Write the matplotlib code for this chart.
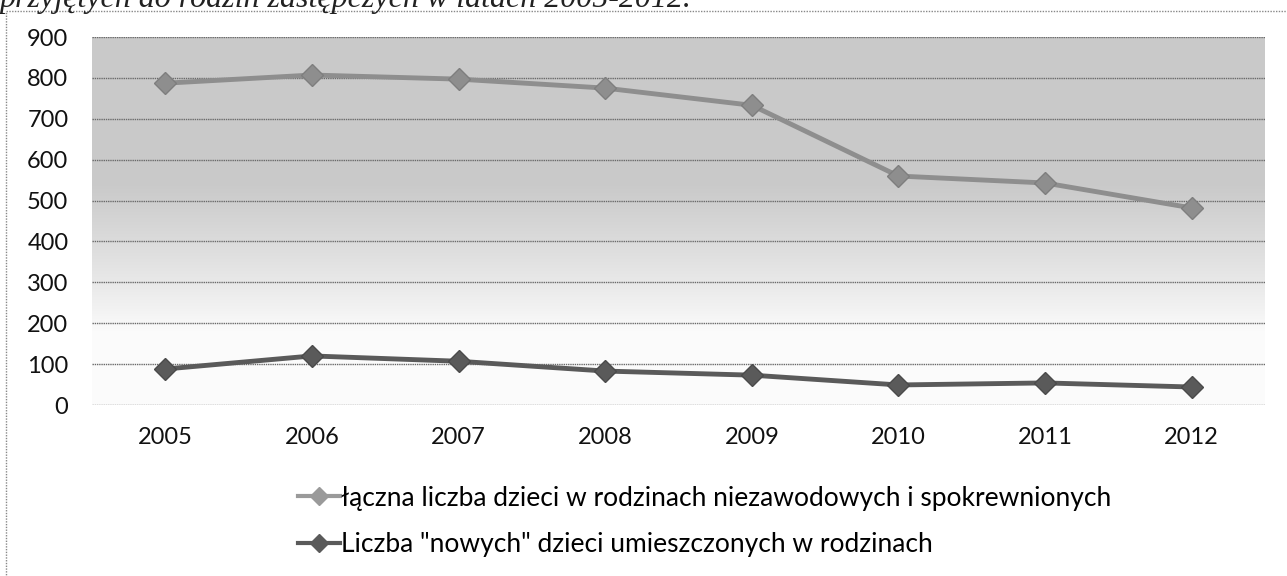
import numpy as np
import matplotlib
matplotlib.use("Agg")
import matplotlib.pyplot as plt
from matplotlib.lines import Line2D
from matplotlib.patches import Rectangle

years = ["2005", "2006", "2007", "2008", "2009", "2010", "2011", "2012"]
total_children = [787, 807, 797, 775, 733, 560, 543, 482]
new_children = [88, 120, 107, 83, 73, 49, 54, 44]
series_labels = ["łączna liczba dzieci w rodzinach niezawodowych i spokrewnionych",
                 'Liczba "nowych" dzieci umieszczonych w rodzinach']
yticks = [0, 100, 200, 300, 400, 500, 600, 700, 800, 900]

plt.rcParams['font.family'] = ['Lato', 'DejaVu Sans']

fig = plt.figure(figsize=(12.87, 5.76), dpi=100)
ax = fig.add_axes([92/1287, 1-405/576, (1265-92)/1287, (405-37)/576])

# partial caption at the top (cut by the page edge)
fig.text(0.0, 1-7/576, "przyjętych do rodzin zastępczych w latach 2005-2012.",
         family='Liberation Serif', style='italic', fontsize=23,
         ha='left', va='baseline', color='#222222')

# outer frame of chart
fig.patches.append(Rectangle((6/1287, -0.1), 1.2, 1-11/576+0.1, transform=fig.transFigure,
                             fill=False, edgecolor='#888888', linewidth=1.0, linestyle=(0, (1, 1))))

x = np.arange(len(years))
ax.set_xlim(-0.5, len(years) - 0.5)
ax.set_ylim(0, 900)

# gradient background: gray at top, fading to white near bottom
frac = np.linspace(0, 1, 256).reshape(-1, 1)
vals = 0.985 - 0.195 * np.clip((frac - 0.2) / 0.4, 0, 1) ** 0.9
img = np.dstack([vals, vals, vals])
ax.imshow(img, extent=[-0.5, len(years) - 0.5, 0, 900], origin='lower', aspect='auto', zorder=0)

for t in yticks:
    ax.axhline(t, color='#6a6a6a', linewidth=1.0, linestyle=(0, (1, 0.6)), zorder=1)

ax.plot(x, total_children, color='#8e8e8e', linewidth=3.5, marker='D', markersize=11,
        markerfacecolor='#8e8e8e', markeredgecolor='#7e7e7e', zorder=3)
ax.plot(x, new_children, color='#5a5a5a', linewidth=3.5, marker='D', markersize=11,
        markerfacecolor='#5a5a5a', markeredgecolor='#4a4a4a', zorder=3)

ax.set_xticks(x)
ax.set_xticklabels(years)
ax.set_yticks(yticks)
ax.tick_params(axis='both', length=0, labelsize=17, colors='#111111')
ax.tick_params(axis='x', pad=16)
ax.tick_params(axis='y', pad=17)
for s in ax.spines.values():
    s.set_visible(False)

handles = [Line2D([0], [0], color='#9a9a9a', linewidth=3, marker='D', markersize=9),
           Line2D([0], [0], color='#5a5a5a', linewidth=3, marker='D', markersize=9)]
fig.legend(handles, series_labels, loc='upper left', bbox_to_anchor=(287/1287, 1-475/576),
           frameon=False, fontsize=19, handlelength=1.6, handletextpad=0.05,
           labelspacing=0.82, borderaxespad=0)

fig.savefig("out.png", dpi=100)
